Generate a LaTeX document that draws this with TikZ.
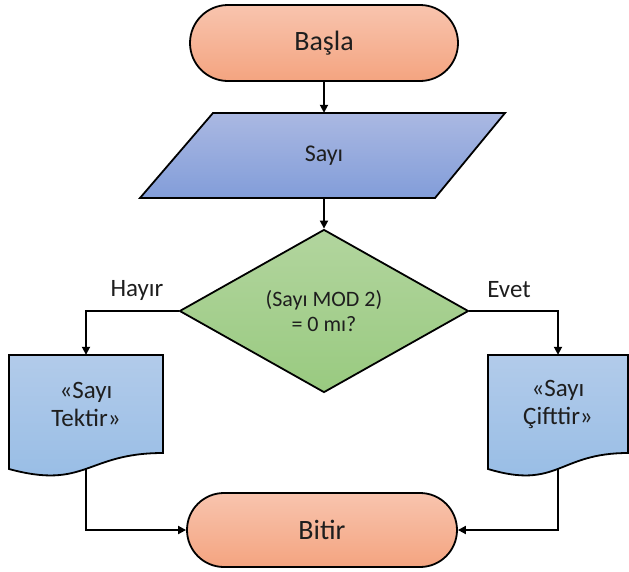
\documentclass[tikz,border=0pt]{standalone}
\usepackage{fontspec}
\setmainfont{Carlito}
\usetikzlibrary{shapes.geometric,shapes.misc,arrows.meta}

\definecolor{termtop}{RGB}{248,196,174}
\definecolor{termbot}{RGB}{244,164,128}
\definecolor{iotop}{RGB}{170,184,226}
\definecolor{iobot}{RGB}{130,157,217}
\definecolor{dectop}{RGB}{178,213,158}
\definecolor{decbot}{RGB}{153,202,128}
\definecolor{doctop}{RGB}{178,203,234}
\definecolor{docbot}{RGB}{150,188,229}
\definecolor{ink}{RGB}{30,30,30}

\tikzset{
  outline/.style={draw=black, line width=1.8pt},
  term/.style={rounded rectangle, outline, top color=termtop, bottom color=termbot,
    inner sep=0pt, text=ink, font=\fontsize{28}{32}\selectfont},
  iobox/.style={outline, top color=iotop, bottom color=iobot},
  decision/.style={diamond, outline, top color=dectop, bottom color=decbot,
    aspect=1.77, inner sep=0pt, minimum width=289pt, minimum height=163pt,
    align=center, text=ink, font=\fontsize{22}{25}\selectfont},
  docbox/.style={outline, top color=doctop, bottom color=docbot},
  anchorbox/.style={inner sep=0pt, text=ink, align=center},
  label/.style={text=ink, font=\fontsize{25}{28}\selectfont},
  flow/.style={draw=black, line width=1.8pt, -{Triangle[length=8pt,width=8pt]}}
}

\begin{document}
\begin{tikzpicture}[x=1pt,y=-1pt]
\useasboundingbox (0,0) rectangle (629,571);

% start terminal
\node[term, minimum width=268pt, minimum height=76pt] (basla) at (324,43) {Başla};

% input parallelogram
\path[iobox] (213,113) -- (505,113) -- (435,198) -- (140,198) -- cycle;
\node[anchorbox, minimum width=200pt, minimum height=85pt,
      font=\fontsize{24}{28}\selectfont] (sayi) at (324,155.5) {Sayı};

% decision
\node[decision] (karar) at (324,311) {(Sayı MOD 2)\\= 0 mı?};

% output documents
\path[docbox] (9,355) -- (163,355) -- (163,453)
  .. controls (86,453) and (86,490) .. (9,469) -- cycle;
\node[anchorbox, minimum width=154pt, minimum height=98pt,
      font=\fontsize{25}{28}\selectfont] (tek) at (86,404) {«Sayı\\Tektir»};
\coordinate (tek-alt) at (86,469);

\path[docbox] (488,355) -- (628,355) -- (628,453)
  .. controls (558,453) and (558,490) .. (488,469) -- cycle;
\node[anchorbox, minimum width=140pt, minimum height=98pt,
      font=\fontsize{25}{28}\selectfont] (cift) at (558,404) {«Sayı\\Çifttir»};
\coordinate (cift-alt) at (558,469);

% end terminal
\node[term, minimum width=270pt, minimum height=74pt] (bitir) at (322,530) {Bitir};

% branch labels
\node[label] (hayir) at (137,290) {Hayır};
\node[label] (evet) at (509,290) {Evet};

% connectors
\draw[flow] (basla.south) -- (sayi.north);
\draw[flow] (sayi.south) -- (karar.north);
\draw[flow] (karar.west) -| (tek.north);
\draw[flow] (karar.east) -| (cift.north);
\draw[flow] (tek-alt) |- (bitir.west);
\draw[flow] (cift-alt) |- (bitir.east);
\end{tikzpicture}
\end{document}
